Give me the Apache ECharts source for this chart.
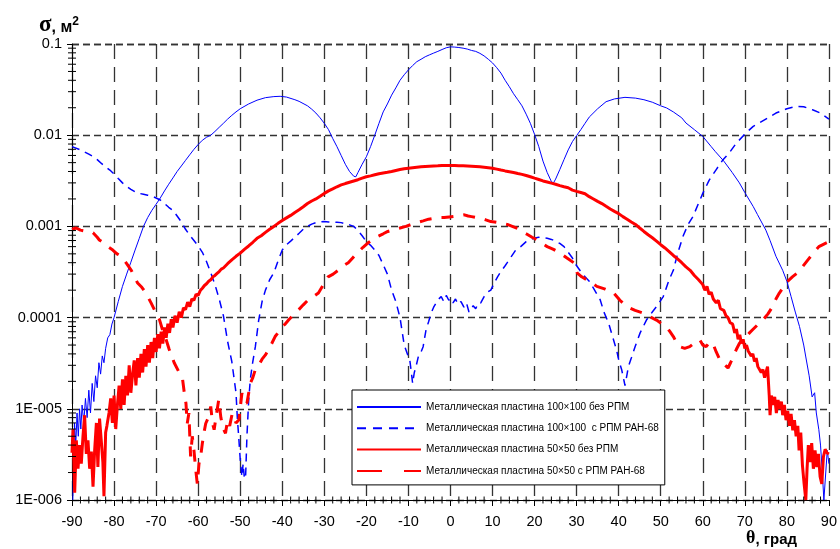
<!DOCTYPE html>
<html>
<head>
<meta charset="utf-8">
<script src="https://cdn.jsdelivr.net/npm/echarts@6/dist/echarts.min.js"></script>
<style>
html,body{margin:0;padding:0;background:#fff;}
#c{width:840px;height:549px;}
</style>
</head>
<body>
<div id="c"></div>
<script>
// ---------------- DATA ----------------
const seriesNames = [
  'Металлическая пластина 100×100 без РПМ',
  'Металлическая пластина 100×100  с РПМ РАН-68',
  'Металлическая пластина 50×50 без РПМ',
  'Металлическая пластина 50×50 с РПМ РАН-68'
];
const xTickMin = -90, xTickMax = 90, xTickStep = 10;
const yTickValues = [1e-6, 1e-5, 1e-4, 1e-3, 1e-2, 1e-1];
const yTickLabels = ['1E-006', '1E-005', '0.0001', '0.001', '0.01', '0.1'];

// [angle θ (deg), σ (m²)]
const plate100NoRam = [[-89.8,1.0e-6],[-89.6,2.5e-6],[-89.4,7e-6],[-89.1,4e-6],[-88.8,9e-6],[-88.5,5e-6],[-88.2,1.0e-5],[-87.9,6e-6],[-87.6,1.1e-5],[-87.2,7e-6],[-86.8,1.3e-5],[-86.4,8e-6],[-86,1.6e-5],[-85.6,9e-6],[-85.2,1.9e-5],[-84.8,1.2e-5],[-84.4,2.3e-5],[-84,1.7e-5],[-83.6,3.2e-5],[-83.2,2.4e-5],[-82.8,3.8e-5],[-82.4,3.2e-5],[-82,4.6e-5],[-81.5,6.0e-5],[-81,6.5e-5],[-80.5,8.5e-5],[-80,1.0e-4],[-79,1.5e-4],[-78,2.2e-4],[-77,3.0e-4],[-76,4.05e-4],[-75,5.5e-4],[-74,7.4e-4],[-73,1.0e-3],[-72,1.25e-3],[-71,1.5e-3],[-70,1.75e-3],[-69,2.05e-3],[-68,2.45e-3],[-67,2.9e-3],[-66,3.4e-3],[-65,4.0e-3],[-64,4.6e-3],[-63,5.3e-3],[-62,6.1e-3],[-61,7.0e-3],[-60,7.9e-3],[-59,8.8e-3],[-58,9.5e-3],[-57,1.0e-2],[-56,1.1e-2],[-55,1.22e-2],[-54,1.35e-2],[-53,1.5e-2],[-52,1.65e-2],[-51,1.8e-2],[-50,1.95e-2],[-48,2.2e-2],[-46,2.42e-2],[-44,2.58e-2],[-42,2.65e-2],[-40.5,2.67e-2],[-39,2.62e-2],[-37,2.45e-2],[-36,2.35e-2],[-34,2.1e-2],[-33,1.93e-2],[-32,1.75e-2],[-31,1.55e-2],[-30,1.35e-2],[-29,1.15e-2],[-28,9.2e-3],[-27,7.5e-3],[-26,6.0e-3],[-25,4.8e-3],[-24,4.0e-3],[-23,3.55e-3],[-22.5,3.5e-3],[-22,3.9e-3],[-21,4.8e-3],[-20,5.8e-3],[-19,7.5e-3],[-18,1.0e-2],[-17,1.35e-2],[-16,1.8e-2],[-15,2.2e-2],[-14,2.75e-2],[-13,3.3e-2],[-12,4.0e-2],[-11,4.6e-2],[-10,5.2e-2],[-9,5.8e-2],[-8,6.4e-2],[-7,6.8e-2],[-6,7.25e-2],[-5,7.6e-2],[-4,7.95e-2],[-3,8.3e-2],[-2,8.7e-2],[-1,9.1e-2],[0,9.3e-2],[1,9.25e-2],[2,9.15e-2],[3,9.0e-2],[4,8.8e-2],[5,8.5e-2],[6,8.3e-2],[7,7.9e-2],[8,7.4e-2],[9,6.8e-2],[10,6.2e-2],[11,5.5e-2],[12,4.8e-2],[13,4.0e-2],[14,3.4e-2],[15,2.85e-2],[16,2.45e-2],[17,2.1e-2],[18,1.7e-2],[19,1.35e-2],[20,1.02e-2],[21,7.5e-3],[22,5.2e-3],[23,3.9e-3],[24,3.1e-3],[24.5,3.0e-3],[25,3.3e-3],[26,4.2e-3],[27,5.4e-3],[28,6.9e-3],[29,8.5e-3],[30,9.9e-3],[31,1.15e-2],[32,1.35e-2],[33,1.58e-2],[35,1.95e-2],[37,2.33e-2],[39,2.5e-2],[41.5,2.6e-2],[44,2.55e-2],[46,2.45e-2],[48,2.3e-2],[50,2.1e-2],[51.4,1.99e-2],[53,1.8e-2],[55,1.55e-2],[56,1.36e-2],[58,1.15e-2],[60,9.7e-3],[62,7.5e-3],[63,6.6e-3],[65,5.2e-3],[67,3.9e-3],[68.7,3.0e-3],[70,2.35e-3],[72,1.65e-3],[73,1.35e-3],[75,9.1e-4],[76,7.0e-4],[77.4,4.7e-4],[79,3.3e-4],[80,2.5e-4],[81,1.7e-4],[82,1.15e-4],[83,8e-5],[84,5.0e-5],[84.5,3.7e-5],[85.3,2.3e-5],[86,1.35e-5],[86.6,1.5e-5],[87,9e-6],[87.6,5.9e-6],[88,4e-6],[88.4,2.1e-6],[88.8,1.0e-6],[89.2,1.0e-6],[89.6,3.5e-6],[90,2.5e-6]];

const plate100Ram = [[-90,7.5e-3],[-88,6.9e-3],[-86,6.2e-3],[-85,5.85e-3],[-84,5.4e-3],[-83,4.9e-3],[-82,4.5e-3],[-81,4.15e-3],[-80,3.75e-3],[-79,3.35e-3],[-78,3.0e-3],[-77,2.75e-3],[-76,2.55e-3],[-75,2.4e-3],[-74,2.3e-3],[-73,2.25e-3],[-72,2.2e-3],[-71,2.15e-3],[-70,2.05e-3],[-69,1.95e-3],[-68,1.78e-3],[-67,1.62e-3],[-66,1.5e-3],[-65,1.3e-3],[-64,1.12e-3],[-63,9.3e-4],[-62,8.0e-4],[-61,7.0e-4],[-60,6.1e-4],[-59,5.2e-4],[-58,4.1e-4],[-57,3.1e-4],[-56,2.3e-4],[-55,1.6e-4],[-54,1.05e-4],[-53,5.5e-5],[-52,3.3e-5],[-51,1.5e-5],[-50.7,8.2e-6],[-50.3,4.5e-6],[-50,2.8e-6],[-49.6,1.8e-6],[-49.3,2.5e-6],[-49,1.7e-6],[-48.7,1.9e-6],[-48.4,5e-6],[-48,1.2e-5],[-47.6,2.1e-5],[-47,3.3e-5],[-46.4,4.8e-5],[-45.6,9.4e-5],[-44.8,1.5e-4],[-44,2.0e-4],[-43,2.6e-4],[-42,3.1e-4],[-41,4.2e-4],[-40,5.5e-4],[-39,6.3e-4],[-38,6.9e-4],[-37,7.6e-4],[-36,8.4e-4],[-35,9.3e-4],[-34,1.0e-3],[-33,1.06e-3],[-32,1.1e-3],[-31,1.12e-3],[-30,1.13e-3],[-29,1.12e-3],[-28,1.12e-3],[-27,1.11e-3],[-26,1.1e-3],[-25,1.07e-3],[-24,1.04e-3],[-23,1.0e-3],[-22,9.0e-4],[-21,7.9e-4],[-20,6.8e-4],[-19,6.2e-4],[-18,5.5e-4],[-17,4.8e-4],[-16,3.8e-4],[-15,3.0e-4],[-14,2.0e-4],[-13,1.5e-4],[-12,1.0e-4],[-11,5.0e-5],[-10,3.7e-5],[-9.7,3.5e-5],[-9.3,2.5e-5],[-9,1.9e-5],[-8.6,2.5e-5],[-8.2,2.9e-5],[-7.6,3.8e-5],[-7,4.2e-5],[-6.5,4.8e-5],[-5.8,7.4e-5],[-5.2,9.0e-5],[-4.6,1.12e-4],[-4,1.3e-4],[-3.4,1.45e-4],[-2.8,1.6e-4],[-2.2,1.7e-4],[-1.6,1.5e-4],[-1,1.75e-4],[-0.4,1.55e-4],[0.1,1.62e-4],[0.6,1.45e-4],[1.2,1.6e-4],[1.8,1.4e-4],[2.5,1.5e-4],[3.2,1.3e-4],[3.8,1.45e-4],[4.4,1.15e-4],[4.8,1.22e-4],[5.4,1.35e-4],[6,1.25e-4],[6.6,1.45e-4],[7.2,1.45e-4],[8,1.7e-4],[8.8,1.9e-4],[9.6,2.0e-4],[10.4,2.4e-4],[11.2,2.8e-4],[12,3.2e-4],[13,3.7e-4],[13.5,4.0e-4],[14.5,4.7e-4],[15.5,5.5e-4],[16.7,6.0e-4],[18,6.8e-4],[19.8,7.4e-4],[21,7.6e-4],[22,7.5e-4],[23,7.4e-4],[24,7.2e-4],[25,6.9e-4],[26,6.5e-4],[27,6.0e-4],[28,5.2e-4],[29,4.5e-4],[30,3.7e-4],[31,3.2e-4],[32,2.8e-4],[33,2.5e-4],[34,2.1e-4],[35,1.75e-4],[35.6,1.57e-4],[36.5,1.15e-4],[37.6,8.7e-5],[38.5,6.3e-5],[39.5,4.4e-5],[40.1,3.3e-5],[40.7,2.7e-5],[41.2,2.1e-5],[41.5,1.8e-5],[42,2.4e-5],[42.3,2.9e-5],[43,3.6e-5],[43.9,4.8e-5],[45.1,6.8e-5],[46.6,9.4e-5],[48,1.15e-4],[49,1.32e-4],[50.6,1.7e-4],[52,2.6e-4],[53,3.3e-4],[54,5.0e-4],[55.3,7.8e-4],[56.5,1.05e-3],[57.7,1.29e-3],[59,1.8e-3],[60,2.3e-3],[61.5,3.2e-3],[63.2,4.2e-3],[64.7,5.3e-3],[66.3,6.4e-3],[68,8.2e-3],[70.3,1.06e-2],[72,1.25e-2],[73.4,1.36e-2],[75.5,1.55e-2],[77.4,1.75e-2],[80,1.95e-2],[82.1,2.07e-2],[84,2.05e-2],[86.1,1.9e-2],[88,1.75e-2],[90,1.5e-2]];

const plate50NoRam = [[-90,3.3e-6],[-89.76,6e-6],[-89.36,1.2e-6],[-88.97,4.5e-6],[-88.57,2.2e-6],[-88.18,4e-6],[-87.79,2.5e-6],[-87.39,5e-6],[-87.0,8.5e-6],[-86.6,3.2e-6],[-86.2,4.5e-6],[-85.8,2.2e-6],[-85.4,3.4e-6],[-85.0,1.4e-6],[-84.6,3.6e-6],[-84.2,7e-6],[-83.84,2.3e-6],[-83.45,7.8e-6],[-83.06,4.6e-6],[-82.66,2.6e-6],[-82.4,1.1e-6],[-82.0,5.5e-6],[-81.7,6.5e-6],[-81.2,9e-6],[-80.8,1.3e-5],[-80.4,7e-6],[-80,1.4e-5],[-79.6,6e-6],[-79.2,1.1e-5],[-78.8,1.8e-5],[-78.4,1.0e-5],[-78,2.1e-5],[-77.6,1.1e-5],[-77.2,2.3e-5],[-76.8,1.4e-5],[-76.4,3.0e-5],[-76,1.5e-5],[-75.6,2.4e-5],[-75.2,3.4e-5],[-74.8,1.8e-5],[-74.4,3.6e-5],[-74,2.2e-5],[-73.6,4.0e-5],[-73.2,2.5e-5],[-72.8,4.5e-5],[-72.4,2.9e-5],[-72,5.0e-5],[-71.6,3.2e-5],[-71.2,5.4e-5],[-70.8,3.6e-5],[-70.4,6.0e-5],[-70,4.2e-5],[-69.6,6.6e-5],[-69.2,4.6e-5],[-68.8,7.0e-5],[-68.4,5.2e-5],[-68,7.8e-5],[-67.6,6.0e-5],[-67.2,8.6e-5],[-66.8,6.8e-5],[-66.4,9.6e-5],[-66,7.8e-5],[-65.5,1.05e-4],[-65,8.8e-5],[-64.5,1.16e-4],[-64,1.0e-4],[-63.5,1.28e-4],[-63,1.22e-4],[-62.5,1.48e-4],[-62,1.32e-4],[-61.5,1.6e-4],[-61,1.55e-4],[-60.5,1.8e-4],[-60,1.75e-4],[-59.5,1.98e-4],[-59,2.1e-4],[-58.5,2.25e-4],[-58,2.35e-4],[-57.5,2.5e-4],[-57,2.6e-4],[-56.5,2.8e-4],[-56,2.9e-4],[-55.5,3.05e-4],[-55,3.2e-4],[-54.5,3.4e-4],[-54,3.5e-4],[-53,3.9e-4],[-52,4.3e-4],[-51,4.7e-4],[-50,5.1e-4],[-49,5.6e-4],[-48,6.1e-4],[-47,6.7e-4],[-46,7.4e-4],[-45,7.9e-4],[-44,8.6e-4],[-43,9.3e-4],[-42,1.0e-3],[-41,1.08e-3],[-40,1.16e-3],[-39,1.24e-3],[-38,1.32e-3],[-37,1.42e-3],[-36,1.52e-3],[-35,1.64e-3],[-34,1.78e-3],[-33,1.9e-3],[-32,2.0e-3],[-31,2.14e-3],[-30,2.3e-3],[-29,2.45e-3],[-28,2.58e-3],[-27,2.72e-3],[-26,2.85e-3],[-25,2.95e-3],[-24,3.05e-3],[-23,3.15e-3],[-22,3.25e-3],[-21,3.38e-3],[-20,3.5e-3],[-19,3.58e-3],[-18,3.68e-3],[-17,3.78e-3],[-16,3.85e-3],[-15,3.92e-3],[-14,4.0e-3],[-13,4.1e-3],[-12,4.2e-3],[-11,4.28e-3],[-10,4.35e-3],[-9,4.4e-3],[-8,4.45e-3],[-7,4.5e-3],[-6,4.55e-3],[-5,4.58e-3],[-4,4.6e-3],[-3,4.62e-3],[-2,4.65e-3],[-1,4.66e-3],[0,4.65e-3],[1,4.64e-3],[2,4.62e-3],[3,4.61e-3],[4,4.6e-3],[5,4.58e-3],[6,4.55e-3],[7,4.5e-3],[8,4.45e-3],[9,4.4e-3],[10,4.35e-3],[11,4.25e-3],[12,4.15e-3],[13,4.06e-3],[14,3.98e-3],[15,3.9e-3],[16,3.8e-3],[17,3.72e-3],[18,3.62e-3],[19,3.5e-3],[20,3.38e-3],[21,3.27e-3],[22,3.15e-3],[23,3.07e-3],[24,2.98e-3],[25,2.9e-3],[26,2.8e-3],[27,2.72e-3],[28,2.65e-3],[29,2.5e-3],[30,2.42e-3],[31,2.35e-3],[32,2.28e-3],[33,2.12e-3],[34,2.0e-3],[35,1.88e-3],[36,1.78e-3],[37,1.66e-3],[38,1.55e-3],[39,1.46e-3],[40,1.38e-3],[41,1.28e-3],[42,1.2e-3],[43,1.12e-3],[44,1.05e-3],[45,9.6e-4],[46,8.8e-4],[47,8.1e-4],[48,7.5e-4],[49,6.9e-4],[50,6.3e-4],[51,5.8e-4],[52,5.3e-4],[53,4.8e-4],[54,4.4e-4],[55,4.0e-4],[56,3.6e-4],[57,3.3e-4],[58,2.9e-4],[59,2.6e-4],[60,2.3e-4],[60.5,2.0e-4],[61,2.2e-4],[61.5,1.8e-4],[62,1.9e-4],[62.5,1.6e-4],[63.2,1.45e-4],[63.7,1.55e-4],[64.2,1.25e-4],[65,1.2e-4],[65.5,1.05e-4],[66,1.0e-4],[66.5,8.8e-5],[67.1,8.5e-5],[67.6,6.8e-5],[68,7.5e-5],[68.4,5.8e-5],[68.8,6.5e-5],[69.2,5.2e-5],[69.6,5.8e-5],[70,4.6e-5],[70.4,5.0e-5],[70.8,4.3e-5],[71.1,4.5e-5],[71.5,3.8e-5],[71.9,4.0e-5],[72.3,3.3e-5],[72.7,3.6e-5],[73.1,2.9e-5],[73.5,3.0e-5],[73.9,2.5e-5],[74.3,2.7e-5],[74.7,2.2e-5],[75.0,2.3e-5],[75.4,2.9e-5],[75.8,1.4e-5],[76.0,8.5e-6],[76.3,1.4e-5],[76.7,1.1e-5],[77.1,1.35e-5],[77.5,9e-6],[77.9,1.25e-5],[78.3,1.0e-5],[78.7,1.2e-5],[79.0,8.5e-6],[79.4,1.1e-5],[79.8,7.5e-6],[80.2,9.5e-6],[80.6,6.5e-6],[81.0,8.8e-6],[81.4,5.8e-6],[81.8,7.5e-6],[82.2,5.0e-6],[82.6,6.5e-6],[82.9,3.5e-6],[83.3,5.5e-6],[83.7,2.4e-6],[84.1,1.5e-6],[84.5,1.0e-6],[84.8,2.2e-6],[85.1,4.0e-6],[85.5,2.6e-6],[85.9,4.2e-6],[86.3,2.2e-6],[86.7,3.5e-6],[87.1,2.3e-6],[87.5,3.2e-6],[87.9,1.8e-6],[88.3,1.5e-6],[88.7,3.0e-6],[89.1,3.6e-6],[89.5,3.3e-6],[90,3.2e-6]];

const plate50Ram = [[-90,9.3e-4],[-89,9.6e-4],[-88,9.1e-4],[-87,8.9e-4],[-86,8.8e-4],[-85,8.5e-4],[-84,7.6e-4],[-83.5,7.1e-4],[-82.5,6.6e-4],[-81.5,6.0e-4],[-80.3,5.5e-4],[-79.3,5.0e-4],[-78.3,4.7e-4],[-77,3.9e-4],[-75.9,3.3e-4],[-75,2.7e-4],[-74.4,2.4e-4],[-73.4,2.15e-4],[-72.4,1.85e-4],[-71.2,1.45e-4],[-70,1.12e-4],[-69.2,9.5e-5],[-68.5,7.4e-5],[-67.7,5.9e-5],[-66.9,4.5e-5],[-65.7,3.2e-5],[-64.7,2.6e-5],[-63.7,2.1e-5],[-63.3,1.5e-5],[-62.9,1.15e-5],[-62.6,6.9e-6],[-62.2,9e-6],[-61.8,3.0e-6],[-61.4,5e-6],[-61.0,3.5e-6],[-60.6,2.2e-6],[-60.2,1.5e-6],[-59.8,2.5e-6],[-59.4,3.0e-6],[-59.0,4.2e-6],[-58.6,5.5e-6],[-58.2,6.9e-6],[-57.6,8e-6],[-57.0,1.06e-5],[-56.6,7e-6],[-56.2,5.9e-6],[-55.6,9e-6],[-55.1,1.26e-5],[-54.6,8e-6],[-54.0,6e-6],[-53.5,5.4e-6],[-53.0,7.5e-6],[-52.5,6.5e-6],[-51.9,8.9e-6],[-51.0,7e-6],[-50.3,7.6e-6],[-49.6,1.48e-5],[-49.0,1.2e-5],[-48.4,1.15e-5],[-47.6,1.9e-5],[-47,2.2e-5],[-46.4,2.7e-5],[-45.6,3.0e-5],[-44.8,3.5e-5],[-44,3.9e-5],[-43.2,4.5e-5],[-42.5,5.2e-5],[-41.7,6.2e-5],[-40.9,6.9e-5],[-40.1,7.9e-5],[-39.3,8.5e-5],[-38.5,9.4e-5],[-37.3,1.08e-4],[-36.1,1.22e-4],[-35,1.38e-4],[-33.8,1.57e-4],[-32.6,1.7e-4],[-31.4,1.86e-4],[-30.2,2.3e-4],[-29.1,2.8e-4],[-27.9,3.0e-4],[-26.7,3.3e-4],[-25.5,3.7e-4],[-24.3,4.0e-4],[-23.1,4.6e-4],[-22,5.2e-4],[-20.8,5.9e-4],[-19.6,6.6e-4],[-18.4,7.2e-4],[-17.2,7.8e-4],[-16,8.3e-4],[-14.9,8.8e-4],[-13.5,9.2e-4],[-12,9.6e-4],[-10.6,1.0e-3],[-9.3,1.05e-3],[-8,1.1e-3],[-6.5,1.15e-3],[-5.2,1.2e-3],[-3.8,1.23e-3],[-2.6,1.25e-3],[-1.5,1.25e-3],[-0.3,1.27e-3],[0.9,1.29e-3],[2.1,1.31e-3],[3.3,1.34e-3],[4.2,1.3e-3],[5,1.28e-3],[6.1,1.25e-3],[7.2,1.23e-3],[8.4,1.18e-3],[9.6,1.13e-3],[10.5,1.12e-3],[11.5,1.1e-3],[12.5,1.07e-3],[13.5,1.05e-3],[14.7,1.0e-3],[15.9,9.5e-4],[17,8.8e-4],[18.2,8.2e-4],[19.4,7.6e-4],[20.6,7.1e-4],[21.8,6.5e-4],[23,6.0e-4],[24.5,5.6e-4],[26.1,5.1e-4],[27.7,4.5e-4],[29.3,4.0e-4],[30.1,3.1e-4],[31.2,2.8e-4],[32.4,2.6e-4],[33.6,2.4e-4],[34.8,2.2e-4],[36.8,2.05e-4],[38.8,1.86e-4],[40.3,1.55e-4],[41.9,1.32e-4],[43.9,1.2e-4],[45.9,1.12e-4],[47.5,1.02e-4],[49,9.4e-5],[50.2,8.6e-5],[51.4,7.9e-5],[52.2,7.0e-5],[53,6.2e-5],[53.7,5.4e-5],[54.5,4.8e-5],[55.7,4.6e-5],[56.9,4.8e-5],[58.1,5.3e-5],[59.3,5.7e-5],[60,5.0e-5],[60.8,4.8e-5],[61.6,5.4e-5],[62.4,5.2e-5],[63.2,4.2e-5],[64,3.5e-5],[65,3.1e-5],[66,2.8e-5],[66.6,3.2e-5],[67.2,3.7e-5],[68,4.5e-5],[68.7,5.2e-5],[69.5,5.8e-5],[70.3,6.2e-5],[71.1,6.8e-5],[71.9,7.4e-5],[73.1,8.4e-5],[74.3,9.4e-5],[75.5,1.1e-4],[76.6,1.32e-4],[77.4,1.6e-4],[78.2,1.86e-4],[79,2.1e-4],[79.8,2.4e-4],[81.3,2.8e-4],[82.9,3.2e-4],[83.7,3.6e-4],[85,4.3e-4],[86.3,5.1e-4],[87.6,6.0e-4],[88.8,6.4e-4],[90,6.8e-4]];

// ---------------- STYLE ----------------
const SANS = "'Liberation Sans', Arial, sans-serif";
const SERIF = "'Liberation Serif', 'Times New Roman', serif";

// minor tick positions (axis decoration only)
const yMinor = [];
for (let d = -6; d <= -2; d++) for (let k = 2; k <= 9; k++) yMinor.push([xTickMin, k * Math.pow(10, d)]);
const xMinor = [];
for (let v = xTickMin; v <= xTickMax; v += 2) if (v % 10 !== 0) xMinor.push([v, yTickValues[0]]);

function tickRenderer(vertical, half) {
  return function (params, api) {
    const p = api.coord([api.value(0), api.value(1)]);
    const shape = vertical
      ? { x1: p[0], y1: p[1] - half, x2: p[0], y2: p[1] + half }
      : { x1: p[0] - half, y1: p[1], x2: p[0] + half, y2: p[1] };
    return { type: 'line', shape: shape, style: { stroke: '#000', lineWidth: 1 } };
  };
}

const chart = echarts.init(document.getElementById('c'), null, { renderer: 'canvas' });
const option = {
  animation: false,
  backgroundColor: '#fff',
  title: [
    {
      text: '{s|σ}{b|, м}{sup|2}', left: 34, top: 9,
      textStyle: { rich: {
        s: { fontFamily: SERIF, fontSize: 23, color: '#000', verticalAlign: 'bottom' },
        b: { fontFamily: SANS, fontSize: 16, fontWeight: 'bold', color: '#000', verticalAlign: 'bottom', padding: [0, 0, 1, 0] },
        sup: { fontFamily: SANS, fontSize: 12, fontWeight: 'bold', color: '#000', verticalAlign: 'top', padding: [2, 0, 0, 0] }
      } }
    },
    {
      text: '{s|θ}{b|, град}', left: 741, top: 524,
      textStyle: { rich: {
        s: { fontFamily: SERIF, fontSize: 18, color: '#000', verticalAlign: 'bottom' },
        b: { fontFamily: SANS, fontSize: 15, fontWeight: 'bold', color: '#000', verticalAlign: 'bottom' }
      } }
    }
  ],
  grid: { left: 72, right: 7, top: 44, bottom: 49, containLabel: false },
  legend: {
    left: 352, top: 390, orient: 'vertical',
    itemWidth: 64, itemHeight: 14, itemGap: 7.3,
    padding: [10, 6, 7, 4],
    backgroundColor: '#fff', borderColor: '#000', borderWidth: 1, borderRadius: 0,
    selectedMode: false,
    itemStyle: { opacity: 0 },
    textStyle: { fontFamily: SANS, fontSize: 10, lineHeight: 14, color: '#000' },
    data: [
      { name: seriesNames[0] },
      { name: seriesNames[1], lineStyle: { type: [9, 7] } },
      { name: seriesNames[2] },
      { name: seriesNames[3], lineStyle: { type: [25, 22] } }
    ]
  },
  xAxis: {
    type: 'value', min: xTickMin, max: xTickMax, interval: xTickStep,
    axisLine: { show: true, onZero: false, lineStyle: { color: '#000', width: 1 } },
    axisTick: { show: true, length: 6, lineStyle: { color: '#000' } },
    axisLabel: { show: true, color: '#000', fontFamily: SANS, fontSize: 14.5, margin: 14 },
    splitLine: { show: true, lineStyle: { color: '#333', width: 1.3, type: [15, 8] } }
  },
  yAxis: {
    type: 'log', logBase: 10, min: yTickValues[0], max: yTickValues[yTickValues.length - 1],
    axisLine: { show: true, onZero: false, lineStyle: { color: '#000', width: 1 } },
    axisTick: { show: true, length: 5, lineStyle: { color: '#000' } },
    axisLabel: {
      show: true, color: '#000', fontFamily: SANS, fontSize: 14.5, margin: 10,
      formatter: function (v) {
        const e = Math.round(Math.log10(v));
        const i = yTickValues.findIndex(t => Math.round(Math.log10(t)) === e);
        return i >= 0 ? yTickLabels[i] : '';
      }
    },
    splitLine: { show: true, lineStyle: { color: '#333', width: 1.3, type: [7, 4] } }
  },
  series: [
    { name: seriesNames[0], type: 'line', data: plate100NoRam, symbol: 'none', showSymbol: false,
      lineStyle: { color: '#0000ff', width: 1 }, itemStyle: { color: '#0000ff' }, emphasis: { disabled: true }, z: 3 },
    { name: seriesNames[1], type: 'line', data: plate100Ram, symbol: 'none', showSymbol: false,
      lineStyle: { color: '#0000ff', width: 1.5, type: [8, 6] }, itemStyle: { color: '#0000ff' }, emphasis: { disabled: true }, z: 3 },
    { name: seriesNames[2], type: 'line', data: plate50NoRam, symbol: 'none', showSymbol: false,
      lineStyle: { color: '#ff0000', width: 3 }, itemStyle: { color: '#ff0000' }, emphasis: { disabled: true }, z: 4 },
    { name: seriesNames[3], type: 'line', data: plate50Ram, symbol: 'none', showSymbol: false,
      lineStyle: { color: '#ff0000', width: 3, type: [12, 10] }, itemStyle: { color: '#ff0000' }, emphasis: { disabled: true }, z: 4 },
    { name: 'yMinorTicks', type: 'custom', data: yMinor, renderItem: tickRenderer(false, 4), silent: true, clip: false, z: 5 },
    { name: 'xMinorTicks', type: 'custom', data: xMinor, renderItem: tickRenderer(true, 3.5), silent: true, clip: false, z: 5 }
  ]
};
chart.setOption(option);
</script>
</body>
</html>
